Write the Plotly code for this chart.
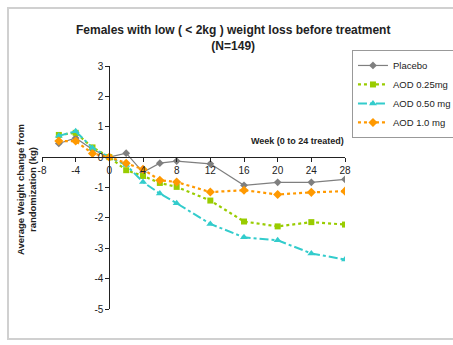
import plotly.graph_objects as go

weeks = [-6, -4, -2, 0, 2, 4, 6, 8, 12, 16, 20, 24, 28]
placebo = [0.45, 0.63, 0.25, 0.0, 0.13, -0.5, -0.2, -0.13, -0.22, -0.93, -0.83, -0.83, -0.73]
aod025 = [0.73, 0.8, 0.32, 0.0, -0.43, -0.62, -0.85, -0.98, -1.43, -2.12, -2.28, -2.14, -2.22]
aod050 = [0.7, 0.85, 0.3, 0.0, -0.26, -0.82, -1.2, -1.52, -2.2, -2.64, -2.74, -3.17, -3.37]
aod100 = [0.53, 0.53, 0.12, 0.0, -0.2, -0.4, -0.76, -0.82, -1.15, -1.09, -1.23, -1.16, -1.12]

x_ticks = [-8, -4, 0, 4, 8, 12, 16, 20, 24, 28]
y_ticks = [3, 2, 1, 0, -1, -2, -3, -4, -5]

fig = go.Figure()
fig.add_trace(go.Scatter(x=weeks, y=placebo, name="Placebo", mode="lines+markers",
                         line=dict(color="#7f7f7f", width=1.2),
                         marker=dict(symbol="diamond", size=6, color="#7f7f7f")))
fig.add_trace(go.Scatter(x=weeks, y=aod025, name="AOD 0.25mg", mode="lines+markers",
                         line=dict(color="#99cc00", width=2.2, dash="dot"),
                         marker=dict(symbol="square", size=6, color="#99cc00")))
fig.add_trace(go.Scatter(x=weeks, y=aod050, name="AOD 0.50 mg", mode="lines+markers",
                         line=dict(color="#33cccc", width=2, dash="dashdot"),
                         marker=dict(symbol="triangle-up", size=7, color="#33cccc")))
fig.add_trace(go.Scatter(x=weeks, y=aod100, name="AOD 1.0 mg", mode="lines+markers",
                         line=dict(color="#ff9900", width=2.2, dash="dot"),
                         marker=dict(symbol="diamond", size=7, color="#ff9900")))

fig.update_layout(
    width=453, height=345,
    margin=dict(l=42, r=108, t=66, b=36, autoexpand=False),
    paper_bgcolor="white", plot_bgcolor="white",
    font=dict(family="Liberation Sans, Arial, sans-serif", size=10, color="#222"),
    showlegend=True,
    legend=dict(x=1.023, y=1.066, xanchor="left", yanchor="top",
                bordercolor="#999", borderwidth=1, bgcolor="white",
                font=dict(size=9.5, color="#222"), tracegroupgap=0,
                itemwidth=30),
    xaxis=dict(range=[-8, 28], tickvals=x_ticks, ticktext=[str(v) for v in x_ticks],
               showgrid=False, zeroline=False, showline=True, linecolor="#222",
               linewidth=1, ticks="outside", ticklen=4, tickcolor="#222",
               anchor="free", position=5/8, tickfont=dict(size=10), automargin=False),
    yaxis=dict(range=[-5, 3], tickvals=y_ticks, ticktext=[str(v) for v in y_ticks],
               showgrid=False, zeroline=False, showline=True, linecolor="#222",
               linewidth=1, ticks="outside", ticklen=4, tickcolor="#222",
               anchor="free", position=8/36, tickfont=dict(size=10), automargin=False),
)

fig.add_annotation(text="<b>Females with low ( &lt; 2kg ) weight loss before treatment</b><br><b>(N=149)</b>",
                   xref="paper", yref="paper", x=(233-42)/303, y=(309-38)/243,
                   xanchor="center", yanchor="middle", showarrow=False,
                   font=dict(size=12, color="#222"))
fig.add_annotation(text="<b>Average Weight change from</b><br><b>randomization (kg)</b>",
                   xref="paper", yref="paper", x=(26-42)/303, y=(309-190)/243,
                   xanchor="center", yanchor="middle", showarrow=False, textangle=-90,
                   font=dict(size=9.5, color="#222"))
fig.add_annotation(text="<b>Week (0 to 24 treated)</b>",
                   xref="paper", yref="paper", x=(346-42)/303, y=(309-141)/243,
                   xanchor="right", yanchor="middle", showarrow=False,
                   font=dict(size=9, color="#222"))
fig.add_shape(type="rect", xref="paper", yref="paper",
              x0=(8-42)/303, x1=(470-42)/303, y0=(309-339)/243, y1=(309-8)/243,
              line=dict(color="#d0d0d0", width=2), layer="below")

fig.write_html("out.html", config={"displayModeBar": False},
               post_script="document.body.style.margin='0';")
